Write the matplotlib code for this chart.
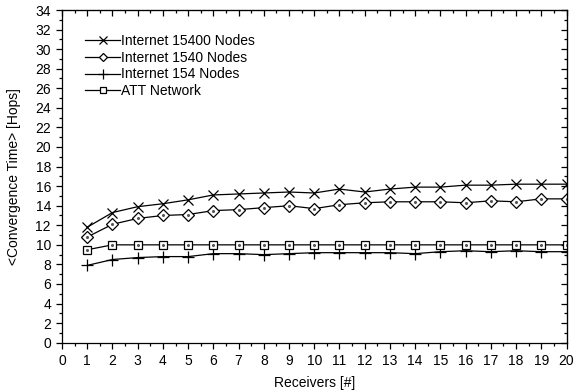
import matplotlib.pyplot as plt
from matplotlib.ticker import MultipleLocator

plt.rcParams["font.family"] = ["Liberation Sans", "DejaVu Sans"]

# receivers on the x axis
receivers = list(range(1, 21))

# mean convergence time in hops per topology
inet_15400 = [11.8, 13.3, 13.9, 14.2, 14.6, 15.1, 15.2, 15.3, 15.4, 15.3,
              15.7, 15.4, 15.7, 15.9, 15.9, 16.1, 16.1, 16.2, 16.2, 16.2]
inet_1540 = [10.8, 12.1, 12.7, 13.0, 13.1, 13.5, 13.6, 13.8, 14.0, 13.7,
             14.1, 14.3, 14.4, 14.4, 14.4, 14.3, 14.5, 14.4, 14.7, 14.7]
inet_154 = [7.9, 8.5, 8.7, 8.8, 8.8, 9.1, 9.1, 9.0, 9.1, 9.2,
            9.2, 9.2, 9.2, 9.1, 9.3, 9.4, 9.3, 9.4, 9.3, 9.3]
att = [9.5, 10.0, 10.0, 10.0, 10.0, 10.0, 10.0, 10.0, 10.0, 10.0,
       10.0, 10.0, 10.0, 10.0, 10.0, 10.0, 10.0, 10.0, 10.0, 10.0]

labels = ["Internet 15400 Nodes", "Internet 1540 Nodes",
          "Internet 154 Nodes", "ATT Network"]

fig = plt.figure(figsize=(5.78, 3.91), dpi=100)
ax = fig.add_axes([62 / 578, 48.3 / 391, 504.5 / 578, 332.7 / 391])

ax.plot(receivers, inet_15400, color="black", lw=0.9, marker="x",
        ms=7.5, mew=0.9, label=labels[0])
ax.plot(receivers, inet_1540, color="black", lw=0.9, marker="D",
        ms=6, mew=0.9, mfc="white", label=labels[1])
ax.plot(receivers, inet_154, color="black", lw=0.9, marker="+",
        ms=9, mew=0.9, label=labels[2])
ax.plot(receivers, att, color="black", lw=0.9, marker="s",
        ms=6, mew=0.9, mfc="white", label=labels[3])
# small centre dots inside the open markers
for ys in (inet_1540, att):
    ax.plot(receivers, ys, ls="none", marker="o", ms=1.2, color="#555555")

ax.set_xlim(0, 20)
ax.set_ylim(0, 34)
ax.xaxis.set_major_locator(MultipleLocator(1))
ax.xaxis.set_minor_locator(MultipleLocator(0.5))
ax.yaxis.set_major_locator(MultipleLocator(2))
ax.yaxis.set_minor_locator(MultipleLocator(1))
ax.tick_params(which="both", direction="out", top=False, right=False,
               labelsize=10, width=0.9)
ax.tick_params(which="major", length=4.5)
ax.tick_params(which="minor", length=2.5)

# inward ticks on the top and right edges
for side_ax, axis in ((ax.secondary_xaxis("top"), "x"),
                      (ax.secondary_yaxis("right"), "y")):
    side_ax.tick_params(which="both", direction="in", width=0.9,
                        labelleft=False, labelright=False,
                        labeltop=False, labelbottom=False)
    side_ax.tick_params(which="major", length=4.5)
    side_ax.tick_params(which="minor", length=2.5)
    if axis == "x":
        side_ax.xaxis.set_major_locator(MultipleLocator(1))
        side_ax.xaxis.set_minor_locator(MultipleLocator(0.5))
    else:
        side_ax.yaxis.set_major_locator(MultipleLocator(2))
        side_ax.yaxis.set_minor_locator(MultipleLocator(1))

for sp in ax.spines.values():
    sp.set_linewidth(0.9)

ax.set_xlabel("Receivers [#]", fontsize=10, labelpad=6)
ax.set_ylabel("<Convergence Time> [Hops]", fontsize=10, labelpad=10)

ax.legend(loc="upper left", bbox_to_anchor=(0.035, 0.945), frameon=False,
          fontsize=10, handlelength=2.5, handletextpad=0.1,
          labelspacing=0.2, borderaxespad=0, markerscale=0.75)

fig.savefig("out.png", dpi=100)
